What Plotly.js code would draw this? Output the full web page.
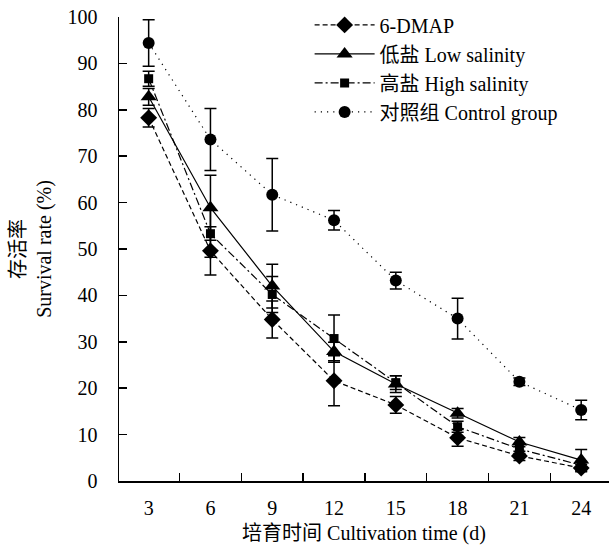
<!DOCTYPE html>
<html>
<head>
<meta charset="utf-8">
<script src="https://cdn.plot.ly/plotly-3.0.1.min.js"></script>
<style>html,body{margin:0;padding:0;background:#fff;overflow:hidden}</style>
</head>
<body>
<div id="chart" style="width:609px;height:548px"></div>
<script>
const days = ["3", "6", "9", "12", "15", "18", "21", "24"];
const seriesNames = ["6-DMAP", "低盐 Low salinity", "高盐 High salinity", "对照组 Control group"];
const dmap      = [78.3, 49.6, 34.8, 21.6, 16.4, 9.3, 5.4, 2.8];
const dmapErr   = [2.0, 5.2, 4.0, 5.4, 1.8, 1.8, 1.0, 0.8];
const lowSal    = [82.8, 58.9, 42.0, 27.9, 20.9, 14.6, 8.4, 4.5];
const lowSalErr = [1.8, 7.0, 4.7, 2.0, 1.8, 1.0, 1.0, 2.3];
const highSal   = [86.7, 53.3, 40.2, 30.7, 21.2, 11.7, 6.9, 3.4];
const highSalErr= [1.6, 5.1, 3.9, 5.1, 1.5, 1.2, 1.0, 0.8];
const control   = [94.4, 73.6, 61.7, 56.2, 43.2, 35.0, 21.4, 15.3];
const controlErr= [5.0, 6.7, 7.8, 2.1, 1.8, 4.4, 0.8, 2.1];
const yTicks = [0, 10, 20, 30, 40, 50, 60, 70, 80, 90, 100];

const FONT = "'Liberation Serif', 'Times New Roman', 'Noto Sans CJK SC', serif";

function mk(name, y, err, symbol, size, dash) {
  return {
    x: days, y: y, name: name, type: "scatter", mode: "lines+markers",
    line: {color: "#000", width: 1.2, dash: dash},
    marker: {symbol: symbol, size: size, color: "#000", line: {width: 0}},
    error_y: {type: "data", array: err, visible: true, color: "#000", thickness: 1.5, width: 6}
  };
}

const traces = [
  mk(seriesNames[0], dmap, dmapErr, "diamond", 13, "5px,3px"),
  mk(seriesNames[1], lowSal, lowSalErr, "triangle-up", 14, "solid"),
  mk(seriesNames[2], highSal, highSalErr, "square", 9, "8px,3px,2px,3px"),
  mk(seriesNames[3], control, controlErr, "circle", 12, "1.2px,5px")
];

const layout = {
  width: 609, height: 548,
  margin: {l: 119, r: 0, t: 17, b: 67},
  paper_bgcolor: "#fff", plot_bgcolor: "#fff",
  font: {family: FONT, size: 20, color: "#000"},
  showlegend: true,
  legend: {
    x: 0.389, y: 1.025, xanchor: "left", yanchor: "top",
    bgcolor: "rgba(0,0,0,0)", borderwidth: 0,
    font: {family: FONT, size: 20, color: "#000"},
    itemwidth: 60, tracegroupgap: 0
  },
  xaxis: {
    type: "category", range: [-0.48, 7.45],
    showline: true, linecolor: "#000", linewidth: 1.5,
    ticks: "inside", tickson: "boundaries", ticklen: 8, tickwidth: 1.5, tickcolor: "#000",
    showgrid: false, zeroline: false,
    ticklabelstandoff: 8,
    title: {text: "培育时间 Cultivation time (d)", font: {family: FONT, size: 20}, standoff: 8}
  },
  yaxis: {
    range: [0, 100], tickvals: yTicks,
    showline: true, linecolor: "#000", linewidth: 1.5,
    ticks: "inside", ticklen: 8, tickwidth: 1.5, tickcolor: "#000",
    showgrid: false, zeroline: false,
    ticklabelstandoff: 16,
    title: {text: "存活率<br>Survival rate (%)", font: {family: FONT, size: 20}, standoff: 10}
  }
};

Plotly.newPlot("chart", traces, layout, {displayModeBar: false, staticPlot: true});
</script>
</body>
</html>
